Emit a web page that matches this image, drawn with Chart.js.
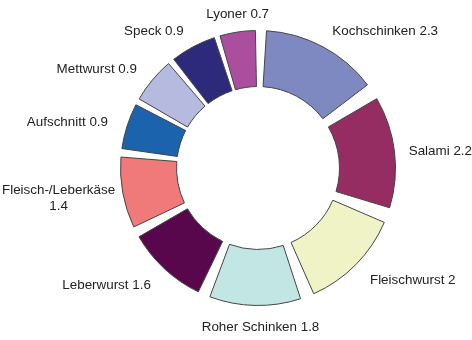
<!DOCTYPE html>
<html><head><meta charset="utf-8">
<script src="https://cdn.jsdelivr.net/npm/chart.js@4/dist/chart.umd.min.js"></script>
<style>html,body{margin:0;padding:0;background:#fff}#wrap{width:472px;height:340px}</style>
</head><body><div id="wrap"><canvas id="c"></canvas></div>
<script>
const categories = ["Kochschinken","Salami","Fleischwurst","Roher Schinken","Leberwurst","Fleisch-/Leberkäse","Aufschnitt","Mettwurst","Speck","Lyoner"];
const values = [2.3,2.2,2,1.8,1.6,1.4,0.9,0.9,0.9,0.7];
const colors = ["#7f89c1","#952d62","#eff3c5","#c2e6e3","#59074d","#f07a7a","#1b63ad","#b6bade","#2e2a7b","#ac4e9e"];

const FONT = '13.4px "Liberation Sans", Arial, sans-serif';
const labelPlugin = {
  id: 'outerLabels',
  afterDatasetsDraw(chart) {
    const ctx = chart.ctx;
    const meta = chart.getDatasetMeta(0);
    ctx.save();
    ctx.font = FONT;
    ctx.fillStyle = '#222';
    ctx.textBaseline = 'middle';
    meta.data.forEach((arc, i) => {
      const mid = (arc.startAngle + arc.endAngle) / 2;
      const r = arc.outerRadius + 33;
      const ax = arc.x + Math.cos(mid) * r;
      const ay = arc.y + Math.sin(mid) * r + 2;
      const s = Math.cos(mid);
      const hjust = s > 0.3 ? 0 : (s < -0.3 ? 1 : 0.45);
      let lines = [categories[i] + ' ' + values[i]];
      const w0 = ctx.measureText(lines[0]).width;
      const left0 = ax - hjust * w0;
      if (left0 < 0) lines = [categories[i], String(values[i])];
      const widths = lines.map(l => ctx.measureText(l).width);
      const bw = Math.max(...widths);
      let bl = ax - hjust * bw;
      bl = Math.max(2, Math.min(chart.width - bw, bl));
      const lh = 16;
      const y0 = ay - (lines.length - 1) * lh / 2;
      ctx.textAlign = 'center';
      lines.forEach((l, k) => ctx.fillText(l, bl + bw / 2, y0 + k * lh));
    });
    ctx.restore();
  }
};

new Chart(document.getElementById('c'), {
  type: 'doughnut',
  data: { labels: categories, datasets: [{ data: values, backgroundColor: colors, borderColor: '#444', borderWidth: 1, spacing: 26 }] },
  options: {
    responsive: true, maintainAspectRatio: false, animation: false,
    cutout: '55%',
    layout: { padding: { left: 100, right: 56, top: 30, bottom: 34 } },
    plugins: { legend: { display: false }, tooltip: { enabled: false } }
  },
  plugins: [labelPlugin]
});
</script></body></html>
